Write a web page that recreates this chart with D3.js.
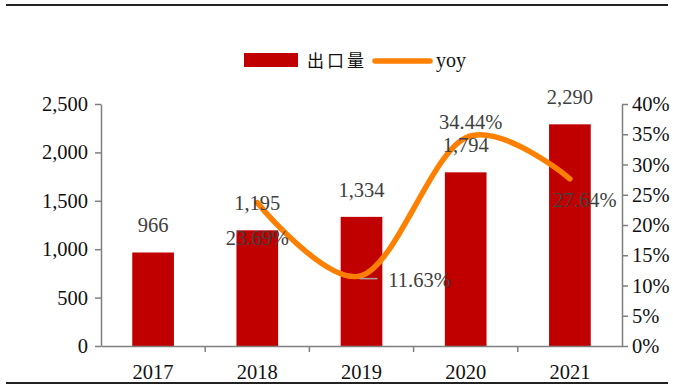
<!DOCTYPE html>
<html>
<head>
<meta charset="utf-8">
<script src="https://cdn.jsdelivr.net/npm/d3@7/dist/d3.min.js"></script>
<style>
  html, body { margin: 0; padding: 0; background: #fff; }
  svg { display: block; }
</style>
</head>
<body>
<svg id="chart" width="673" height="385"></svg>
<script>
// Export volume by year with year-on-year growth
const years = ["2017", "2018", "2019", "2020", "2021"];
const exportVolume = [966, 1195, 1334, 1794, 2290];
const yoyYears = ["2018", "2019", "2020", "2021"];
const yoyValues = [23.69, 11.63, 34.44, 27.64];
const leftTicks = [0, 500, 1000, 1500, 2000, 2500];
const rightTicks = [0, 5, 10, 15, 20, 25, 30, 35, 40];
const seriesNames = ["出口量", "yoy"];

const W = 673, H = 385;
const plot = { left: 101, right: 622, top: 104, bottom: 346 };
const serif = "'Liberation Serif', 'Times New Roman', serif";
const fontSize = 20.5;
const barColor = "#C00000";
const lineColor = "#FF8000";
const axisColor = "#7f7f7f";
const labelColor = "#404040";

const svg = d3.select("#chart");

const xc = d3.scaleBand().domain(years).range([plot.left, plot.right]);
const yL = d3.scaleLinear().domain([0, 2500]).range([plot.bottom, plot.top]);
const yR = d3.scaleLinear().domain([0, 40]).range([plot.bottom, plot.top]);

// frame rules
svg.append("line").attr("x1", 6).attr("x2", 668).attr("y1", 5).attr("y2", 5)
  .attr("stroke", "#222").attr("stroke-width", 2);
svg.append("line").attr("x1", 6).attr("x2", 668).attr("y1", 383).attr("y2", 383)
  .attr("stroke", "#222").attr("stroke-width", 2);

// bars
svg.append("g").selectAll("rect").data(years).join("rect")
  .attr("x", d => xc(d) + xc.bandwidth() * 0.3)
  .attr("width", xc.bandwidth() * 0.4)
  .attr("y", (d, i) => yL(exportVolume[i]))
  .attr("height", (d, i) => plot.bottom - yL(exportVolume[i]))
  .attr("fill", barColor);

// axes
function styleAxis(g) {
  g.selectAll("path.domain").attr("stroke", axisColor).attr("stroke-width", 1.5);
  g.selectAll(".tick line").attr("stroke", axisColor).attr("stroke-width", 1.5);
  g.selectAll(".tick text").attr("font-family", serif).attr("font-size", fontSize).attr("fill", "#111");
}

const leftAxis = svg.append("g").attr("transform", `translate(${plot.left},0)`)
  .call(d3.axisLeft(yL).tickValues(leftTicks).tickSize(6).tickSizeOuter(0).tickPadding(7)
    .tickFormat(d3.format(",")));
styleAxis(leftAxis);

const rightAxis = svg.append("g").attr("transform", `translate(${plot.right},0)`)
  .call(d3.axisRight(yR).tickValues(rightTicks).tickSize(6).tickSizeOuter(0).tickPadding(4)
    .tickFormat(d => d + "%"));
styleAxis(rightAxis);

// category axis: ticks at band boundaries
const xAxis = svg.append("g").attr("transform", `translate(0,${plot.bottom})`)
  .call(d3.axisBottom(xc).tickSize(0).tickPadding(18));
styleAxis(xAxis);
xAxis.selectAll(".tick text").attr("dy", "0.71em");
const boundaries = years.map(d => xc(d)).concat([xc(years[years.length - 1]) + xc.bandwidth()]);
xAxis.selectAll("line.sep").data(boundaries.slice(1, -1)).join("line").attr("class", "sep")
  .attr("x1", d => d).attr("x2", d => d).attr("y1", 0).attr("y2", 6)
  .attr("stroke", axisColor).attr("stroke-width", 1.5);

// yoy smoothed line
const linePts = yoyYears.map((d, i) => [xc(d) + xc.bandwidth() / 2, yR(yoyValues[i])]);
svg.append("path")
  .attr("d", d3.line().curve(d3.curveCardinal.tension(0))(linePts))
  .attr("fill", "none").attr("stroke", lineColor).attr("stroke-width", 5.5)
  .attr("stroke-linecap", "round").attr("stroke-linejoin", "round");

// bar value labels
svg.append("g").selectAll("text").data(years).join("text")
  .attr("x", d => xc(d) + xc.bandwidth() / 2)
  .attr("y", (d, i) => yL(exportVolume[i]) - 20)
  .attr("text-anchor", "middle")
  .attr("font-family", serif).attr("font-size", fontSize).attr("fill", labelColor)
  .text((d, i) => d3.format(",")(exportVolume[i]));

// yoy labels (placement offsets per point)
const yoyOffsets = [[0, 42], [58, 11], [5, -9], [15, 28]];
svg.append("g").selectAll("text").data(yoyYears).join("text")
  .attr("x", (d, i) => xc(d) + xc.bandwidth() / 2 + yoyOffsets[i][0])
  .attr("y", (d, i) => yR(yoyValues[i]) + yoyOffsets[i][1])
  .attr("text-anchor", "middle")
  .attr("font-family", serif).attr("font-size", fontSize).attr("fill", labelColor)
  .text((d, i) => yoyValues[i].toFixed(2) + "%");

// leader line for the 2019 label
const p19 = [xc("2019") + xc.bandwidth() / 2, yR(yoyValues[1])];
svg.append("line")
  .attr("x1", p19[0] - 2).attr("x2", p19[0] + 16)
  .attr("y1", p19[1] + 3).attr("y2", p19[1] + 3)
  .attr("stroke", "#a6a6a6").attr("stroke-width", 1.5);

// legend
const lg = svg.append("g");
lg.append("rect").attr("x", 244).attr("y", 53).attr("width", 54).attr("height", 14).attr("fill", barColor);
lg.append("text").attr("x", 307).attr("y", 67)
  .attr("font-family", "'Noto Sans CJK SC', sans-serif").attr("font-size", 17)
  .attr("letter-spacing", 3).attr("fill", "#111").text(seriesNames[0]);
lg.append("line").attr("x1", 375).attr("x2", 430).attr("y1", 61).attr("y2", 61)
  .attr("stroke", lineColor).attr("stroke-width", 5.5).attr("stroke-linecap", "round");
lg.append("text").attr("x", 436).attr("y", 67)
  .attr("font-family", serif).attr("font-size", 20).attr("fill", "#111").text(seriesNames[1]);
</script>
</body>
</html>
